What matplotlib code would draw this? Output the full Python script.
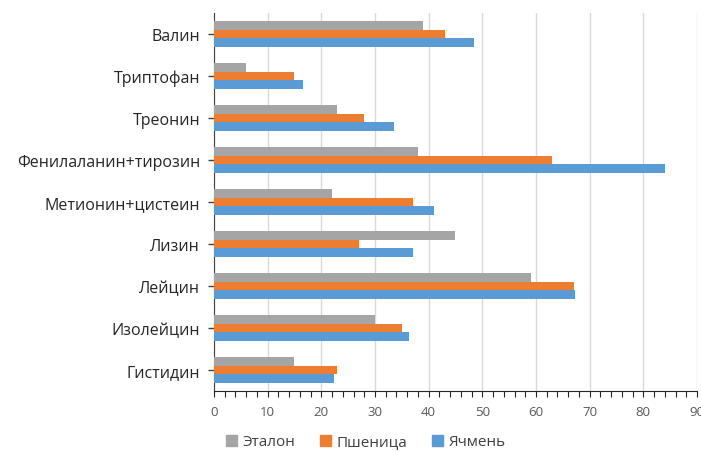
import numpy as np
import matplotlib
matplotlib.use("Agg")
import matplotlib.pyplot as plt
from matplotlib.ticker import MultipleLocator
from matplotlib.patches import Patch

# Аминокислоты снизу вверх
amino = ["Гистидин", "Изолейцин", "Лейцин", "Лизин", "Метионин+цистеин",
         "Фенилаланин+тирозин", "Треонин", "Триптофан", "Валин"]
etalon = [15, 30, 59, 45, 22, 38, 23, 6, 39]
wheat = [23, 35, 67, 27, 37, 63, 28, 15, 43]
barley = [22.3, 36.3, 67.2, 37, 41, 84, 33.6, 16.5, 48.5]

series_names = ["Эталон", "Пшеница", "Ячмень"]
colors = ["#A5A5A5", "#ED7D31", "#5B9BD5"]

plt.rcParams["font.family"] = ["Open Sans", "DejaVu Sans"]

fig = plt.figure(figsize=(7.01, 4.52), dpi=100)
ax = fig.add_axes([214 / 701, 1 - 392 / 452, 483 / 701, 378 / 452])

y = np.arange(len(amino))
h = 0.2
ax.barh(y + h, etalon, height=h, color=colors[0], zorder=3)
ax.barh(y, wheat, height=h, color=colors[1], zorder=3)
ax.barh(y - h, barley, height=h, color=colors[2], zorder=3)

ax.set_xlim(0, 90)
ax.set_ylim(-0.5, len(amino) - 0.5)
ax.xaxis.set_major_locator(MultipleLocator(10))
ax.xaxis.set_minor_locator(MultipleLocator(2))
ax.set_yticks(y)
ax.set_yticklabels(amino, fontsize=11.5, color="#262626")

ax.grid(axis="x", color="#D9D9D9", linewidth=1.0, zorder=0)
for side in ["top", "right"]:
    ax.spines[side].set_visible(False)
ax.spines["left"].set_color("#404040")
ax.spines["bottom"].set_color("#262626")
ax.tick_params(axis="y", length=4, width=1, color="#404040", pad=6)
ax.tick_params(axis="x", which="both", length=4, width=0.8, color="#262626",
               labelsize=9.5, labelcolor="#595959", pad=6)

handles = [Patch(color=c, label=n) for c, n in zip(colors, series_names)]
fig.legend(handles=handles, loc="center", bbox_to_anchor=(366 / 701, 1 - 443 / 452),
           ncol=3, frameon=False, fontsize=11, handlelength=0.7, handleheight=0.7,
           handletextpad=0.4, columnspacing=1.6, labelcolor="#404040")

fig.savefig("out.png", dpi=100)
